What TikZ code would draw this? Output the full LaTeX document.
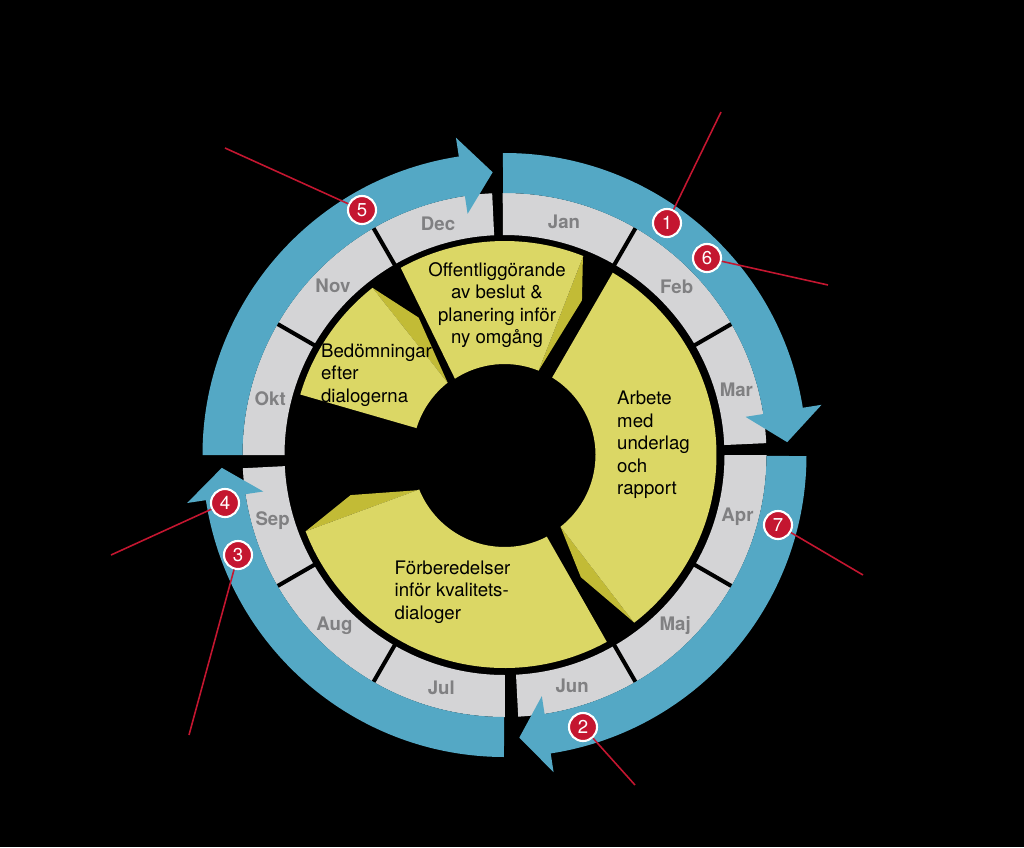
\documentclass[tikz,border=0pt]{standalone}
\usepackage{fontspec}
\setmainfont{TeX Gyre Heros}
\usetikzlibrary{positioning}
\definecolor{ringblue}{RGB}{84,168,197}
\definecolor{ringgray}{RGB}{212,212,214}
\definecolor{monthgray}{RGB}{128,128,130}
\definecolor{segyellow}{RGB}{219,215,101}
\definecolor{segflap}{RGB}{194,187,54}
\definecolor{markred}{RGB}{196,22,48}
\tikzset{
  month/.style={text=monthgray, inner sep=0pt, font=\fontsize{5.3}{6}\selectfont\bfseries},
  seglabel/.style={inner sep=0pt, font=\fontsize{5.3}{6.4}\selectfont},
  marker/.style={circle, fill=markred, draw=white, line width=0.6pt, minimum size=0.28cm, inner sep=0pt, text=white, font=\fontsize{5.3}{6}\selectfont},
  pointer/.style={draw=markred, line width=0.45pt},
  divider/.style={line width=1.15pt}
}

\begin{document}
\begin{tikzpicture}[x=0.01cm, y=0.01cm]
	\fill[black] (0,0) rectangle (1024,847);
	\useasboundingbox (0,0) rectangle (1024,847);
	\begin{scope}[shift={(504.5,392)}]
		\foreach \a/\b in {90.4/2.6, 0/-87, 270.1/182.9, 180/92.7}
			\fill[ringgray] (\a:262) arc[start angle=\a, end angle=\b, radius=262] -- (\b:220) arc[start angle=\b, end angle=\a, radius=220] -- cycle;
		\foreach \a in {30,60,120,150,210,240,300,330}
			\draw[divider] (\a:219) -- (\a:262);
		\foreach \s/\b/\t in {90.3/9/2.6, -0.2/-81.2/-87, 269.9/188.6/182.6, 180/98.7/92.4}
			\fill[ringblue] (\s:262) arc[start angle=\s, end angle=\b, radius=262] -- (\b:244) -- (\t:283) -- (\b:321) -- (\b:302) arc[start angle=\b, end angle=\s, radius=302] -- cycle;

		\fill[segflap] (68.4:213) -- (63.4:173) -- (68:91) -- cycle;
		\fill[segyellow] (119:214) arc[start angle=119, end angle=68.4, radius=214] -- (68:91) arc[start angle=68, end angle=123, radius=91] -- cycle;
		\fill[segflap] (128.3:213) -- (122:162) -- (128.2:92) -- cycle;
		\fill[segyellow] (128.3:213) arc[start angle=128.3, end angle=163.5, radius=213] -- (163:92) arc[start angle=163, end angle=128.2, radius=92] -- cycle;
		\fill[segflap] (-52.3:211) -- (-58:144) -- (-52:91) -- cycle;
		\fill[segyellow] (59.3:212) arc[start angle=59.3, end angle=-52.3, radius=212] -- (-52:91) arc[start angle=-52, end angle=58.4, radius=91] -- cycle;
		\fill[segflap] (201:213) -- (194.6:159) -- (202:94) -- cycle;
		\fill[segyellow] (201:213) arc[start angle=201, end angle=298.7, radius=213] -- (297.4:92) arc[start angle=297.4, end angle=202, radius=92] -- cycle;

		\node (publish) [seglabel, align=center] at (-7.5,150) {Offentliggörande\\av beslut \&\\planering inför\\ny omgång};
		\node (assess) [seglabel, align=left] at (-128,80) {Bedömningar\\efter\\dialogerna};
		\node (report) [seglabel, align=left] at (149,10) {Arbete\\med\\underlag\\och\\rapport};
		\node (prepare) [seglabel, align=left] at (-52,-137) {Förberedelser\\inför kvalitets-\\dialoger};

		\foreach \m/\a in {Jan/75.7, Feb/44.4, Mar/15.8, Apr/-14.8, Maj/-44.9, Jun/-73.7, Jul/-105.2, Aug/-134.9, Sep/-164.2, Okt/166.4, Nov/135.4, Dec/106}
			\node (\m) [month] at (\a:241) {\m};

		\node (m1) [marker] at (162.5,232) {1};
		\node (m2) [marker] at (78.5,-272) {2};
		\node (m3) [marker] at (-266.5,-100) {3};
		\node (m4) [marker] at (-279.5,-48) {4};
		\node (m5) [marker] at (-142.5,245) {5};
		\node (m6) [marker] at (202.5,197) {6};
		\node (m7) [marker] at (273.5,-70) {7};
		\coordinate (e1) at (216.5,343);
		\coordinate (e2) at (130.5,-330);
		\coordinate (e3) at (-315.5,-280);
		\coordinate (e4) at (-393.5,-100);
		\coordinate (e5) at (-279.5,307);
		\coordinate (e6) at (323.5,170);
		\coordinate (e7) at (358.5,-120);
		\foreach \i in {1,...,7}
			\draw[pointer] (m\i) -- (e\i);
	\end{scope}
\end{tikzpicture}
\end{document}
